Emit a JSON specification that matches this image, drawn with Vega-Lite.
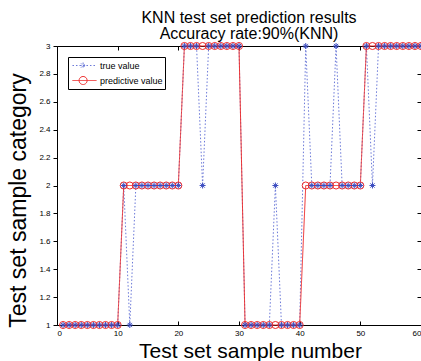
{
  "$schema": "https://vega.github.io/schema/vega-lite/v6.json",
  "width": 364,
  "height": 279,
  "autosize": {"type": "none"},
  "padding": {"left": 57, "top": 46, "right": 0, "bottom": 36},
  "background": "white",
  "title": {
    "text": ["KNN test set prediction results", "Accuracy rate:90%(KNN)"],
    "font": "Liberation Sans",
    "fontSize": 16,
    "fontWeight": "normal",
    "lineHeight": 16,
    "anchor": "middle",
    "dx": 10,
    "offset": -2,
    "color": "black"
  },
  "config": {
    "view": {"stroke": "black", "strokeWidth": 1},
    "axis": {
      "grid": false,
      "domain": false,
      "tickColor": "black",
      "labelColor": "black",
      "labelFont": "Liberation Sans",
      "labelFontSize": 8,
      "titleFont": "Liberation Sans",
      "titleFontWeight": "normal",
      "titleColor": "black"
    }
  },
  "data": {
    "values": [
      {"n": 1, "true value": 1, "predictive value": 1},
      {"n": 2, "true value": 1, "predictive value": 1},
      {"n": 3, "true value": 1, "predictive value": 1},
      {"n": 4, "true value": 1, "predictive value": 1},
      {"n": 5, "true value": 1, "predictive value": 1},
      {"n": 6, "true value": 1, "predictive value": 1},
      {"n": 7, "true value": 1, "predictive value": 1},
      {"n": 8, "true value": 1, "predictive value": 1},
      {"n": 9, "true value": 1, "predictive value": 1},
      {"n": 10, "true value": 1, "predictive value": 1},
      {"n": 11, "true value": 2, "predictive value": 2},
      {"n": 12, "true value": 1, "predictive value": 2},
      {"n": 13, "true value": 2, "predictive value": 2},
      {"n": 14, "true value": 2, "predictive value": 2},
      {"n": 15, "true value": 2, "predictive value": 2},
      {"n": 16, "true value": 2, "predictive value": 2},
      {"n": 17, "true value": 2, "predictive value": 2},
      {"n": 18, "true value": 2, "predictive value": 2},
      {"n": 19, "true value": 2, "predictive value": 2},
      {"n": 20, "true value": 2, "predictive value": 2},
      {"n": 21, "true value": 3, "predictive value": 3},
      {"n": 22, "true value": 3, "predictive value": 3},
      {"n": 23, "true value": 3, "predictive value": 3},
      {"n": 24, "true value": 2, "predictive value": 3},
      {"n": 25, "true value": 3, "predictive value": 3},
      {"n": 26, "true value": 3, "predictive value": 3},
      {"n": 27, "true value": 3, "predictive value": 3},
      {"n": 28, "true value": 3, "predictive value": 3},
      {"n": 29, "true value": 3, "predictive value": 3},
      {"n": 30, "true value": 3, "predictive value": 3},
      {"n": 31, "true value": 1, "predictive value": 1},
      {"n": 32, "true value": 1, "predictive value": 1},
      {"n": 33, "true value": 1, "predictive value": 1},
      {"n": 34, "true value": 1, "predictive value": 1},
      {"n": 35, "true value": 1, "predictive value": 1},
      {"n": 36, "true value": 2, "predictive value": 1},
      {"n": 37, "true value": 1, "predictive value": 1},
      {"n": 38, "true value": 1, "predictive value": 1},
      {"n": 39, "true value": 1, "predictive value": 1},
      {"n": 40, "true value": 1, "predictive value": 1},
      {"n": 41, "true value": 3, "predictive value": 2},
      {"n": 42, "true value": 2, "predictive value": 2},
      {"n": 43, "true value": 2, "predictive value": 2},
      {"n": 44, "true value": 2, "predictive value": 2},
      {"n": 45, "true value": 2, "predictive value": 2},
      {"n": 46, "true value": 3, "predictive value": 2},
      {"n": 47, "true value": 2, "predictive value": 2},
      {"n": 48, "true value": 2, "predictive value": 2},
      {"n": 49, "true value": 2, "predictive value": 2},
      {"n": 50, "true value": 2, "predictive value": 2},
      {"n": 51, "true value": 3, "predictive value": 3},
      {"n": 52, "true value": 2, "predictive value": 3},
      {"n": 53, "true value": 3, "predictive value": 3},
      {"n": 54, "true value": 3, "predictive value": 3},
      {"n": 55, "true value": 3, "predictive value": 3},
      {"n": 56, "true value": 3, "predictive value": 3},
      {"n": 57, "true value": 3, "predictive value": 3},
      {"n": 58, "true value": 3, "predictive value": 3},
      {"n": 59, "true value": 3, "predictive value": 3},
      {"n": 60, "true value": 3, "predictive value": 3}
    ]
  },
  "transform": [{"fold": ["true value", "predictive value"], "as": ["series", "v"]}],
  "layer": [
    {
      "mark": {"type": "line", "strokeWidth": 1},
      "encoding": {
        "x": {
          "field": "n", "type": "quantitative",
          "scale": {"domain": [0, 60], "nice": false},
          "axis": {
            "orient": "bottom",
            "values": [0, 10, 20, 30, 40, 50, 60], "format": "d",
            "tickSize": -4, "labelPadding": 8,
            "title": "Test set sample number", "titleFontSize": 21,
            "titleX": 193, "titleY": 32, "titleBaseline": "alphabetic"
          }
        },
        "y": {
          "field": "v", "type": "quantitative",
          "scale": {"domain": [1, 3], "nice": false, "zero": false},
          "axis": {
            "orient": "left",
            "values": [1, 1.2, 1.4, 1.6, 1.8, 2, 2.2, 2.4, 2.6, 2.8, 3], "format": "~g",
            "tickSize": 4, "labelPadding": 3,
            "title": "Test set sample category", "titleFontSize": 23,
            "titleX": -32, "titleY": 154, "titleBaseline": "alphabetic"
          }
        },
        "color": {
          "field": "series", "type": "nominal",
          "scale": {"domain": ["true value", "predictive value"], "range": ["#6a78d8", "#ee2b2b"]},
          "legend": {
            "title": null, "orient": "none", "legendX": 11, "legendY": 11,
            "strokeColor": "black", "fillColor": "white", "padding": 2,
            "labelFont": "Liberation Sans", "labelFontSize": 9, "labelColor": "black",
            "symbolSize": 144, "rowPadding": 3, "labelOffset": 17, "symbolStrokeWidth": 1,
            "encode": {
              "symbols": {
                "update": {
                  "shape": {"signal": "datum.value === 'true value' ? 'M-0.67,0L3.33,0M1.1,-0.5L1.1,0.5M0.6,0L1.6,0M0.75,-0.35L1.45,0.35M0.75,0.35L1.45,-0.35' : 'M-0.67,0L3.33,0M0.43,0A0.67,0.67 0 1,1 1.77,0A0.67,0.67 0 1,1 0.43,0'"},
                  "fill": {"value": "transparent"}
                }
              }
            }
          }
        },
        "strokeDash": {
          "field": "series", "type": "nominal",
          "scale": {"domain": ["true value", "predictive value"], "range": [[1.5, 2], [1, 0]]},
          "legend": {
            "title": null, "orient": "none", "legendX": 11, "legendY": 11,
            "strokeColor": "black", "fillColor": "white", "padding": 2,
            "labelFont": "Liberation Sans", "labelFontSize": 9, "labelColor": "black",
            "symbolSize": 144, "rowPadding": 3, "labelOffset": 17, "symbolStrokeWidth": 1
          }
        }
      }
    },
    {
      "transform": [{"filter": "datum.series === 'predictive value'"}],
      "mark": {"type": "point", "shape": "circle", "filled": false, "stroke": "#ee2b2b", "strokeWidth": 1, "size": 50, "opacity": 1},
      "encoding": {
        "x": {"field": "n", "type": "quantitative", "axis": null},
        "y": {"field": "v", "type": "quantitative", "axis": null}
      }
    },
    {
      "transform": [{"filter": "datum.series === 'true value'"}],
      "mark": {"type": "point", "shape": "M0,-1L0,1M-1,0L1,0M-0.7,-0.7L0.7,0.7M-0.7,0.7L0.7,-0.7", "filled": false, "stroke": "#3b4cc0", "strokeWidth": 1, "size": 36, "opacity": 1},
      "encoding": {
        "x": {"field": "n", "type": "quantitative", "axis": {"orient": "top", "labels": false, "title": null, "tickSize": -4, "values": [0, 10, 20, 30, 40, 50, 60]}},
        "y": {"field": "v", "type": "quantitative", "axis": {"orient": "right", "labels": false, "title": null, "tickSize": -4, "values": [1, 1.2, 1.4, 1.6, 1.8, 2, 2.2, 2.4, 2.6, 2.8, 3]}}
      }
    }
  ]
}
